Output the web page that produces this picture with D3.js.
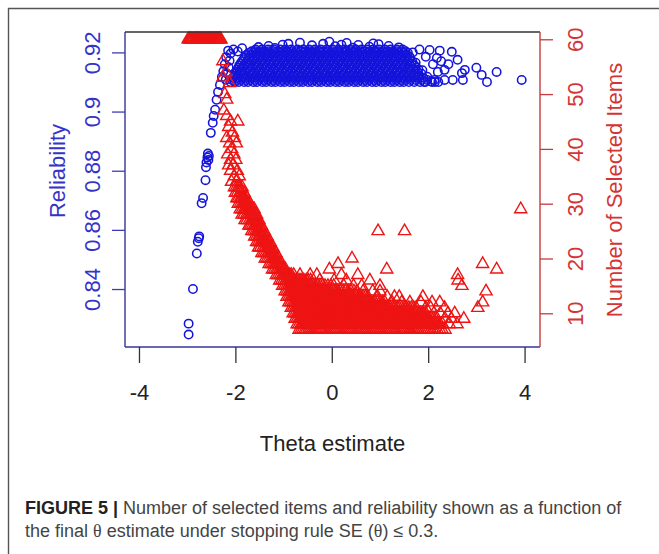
<!DOCTYPE html>
<html>
<head>
<meta charset="utf-8">
<script src="https://cdn.jsdelivr.net/npm/d3@7"></script>
<style>
  body { margin: 0; background: #fff; }
  svg { display: block; font-family: "Liberation Sans", Arial, sans-serif; }
</style>
</head>
<body>
<div id="chart"></div>
<script>
// ---- data ----

// x axis
const xTicks = [-4, -2, 0, 2, 4];
const xTickLabels = ["-4", "-2", "0", "2", "4"];

// left axis: reliability
const relTicks = [0.84, 0.86, 0.88, 0.90, 0.92];
const relTickLabels = ["0.84", "0.86", "0.88", "0.9", "0.92"];

// right axis: number of selected items
const itemTicks = [10, 20, 30, 40, 50, 60];
const itemTickLabels = ["10", "20", "30", "40", "50", "60"];

// reliability: the dense band, one list of theta values per reliability level
const blueRowRel = [0.9100, 0.9107, 0.9114, 0.9121, 0.9128, 0.9135, 0.9142, 0.9149, 0.9156, 0.9163, 0.9170, 0.9177, 0.9184, 0.9191, 0.9198, 0.9204, 0.9210];
const blueRowTheta = [
  [-2.10,-2.01,-1.93,-1.82,-1.74,-1.63,-1.55,-1.44,-1.36,-1.25,-1.17,-1.06,-0.98,-0.87,-0.79,-0.68,-0.60,-0.49,-0.41,-0.30,-0.22,-0.11,-0.03,0.08,0.16,0.27,0.35,0.46,0.54,0.65,0.73,0.84,0.92,1.03,1.11,1.22,1.30,1.41,1.49,1.60,1.71,1.83,1.94,2.08,2.21],
  [-2.07,-1.98,-1.89,-1.79,-1.70,-1.60,-1.51,-1.41,-1.32,-1.22,-1.13,-1.03,-0.94,-0.84,-0.75,-0.65,-0.56,-0.46,-0.37,-0.27,-0.18,-0.08,0.01,0.11,0.20,0.30,0.39,0.49,0.58,0.68,0.77,0.87,0.96,1.06,1.15,1.25,1.34,1.44,1.53,1.63,1.74,1.86,1.98,2.13],
  [-2.05,-1.97,-1.86,-1.79,-1.68,-1.59,-1.50,-1.40,-1.31,-1.21,-1.12,-1.02,-0.93,-0.83,-0.74,-0.64,-0.55,-0.45,-0.36,-0.26,-0.17,-0.07,0.02,0.12,0.21,0.31,0.40,0.50,0.59,0.69,0.78,0.88,0.97,1.07,1.16,1.26,1.35,1.45,1.55,1.66,1.78,1.90],
  [-2.02,-1.94,-1.84,-1.76,-1.66,-1.57,-1.47,-1.38,-1.28,-1.19,-1.09,-1.00,-0.90,-0.81,-0.71,-0.62,-0.52,-0.43,-0.33,-0.24,-0.14,-0.05,0.05,0.14,0.24,0.33,0.43,0.52,0.62,0.71,0.81,0.90,1.00,1.09,1.19,1.28,1.38,1.48,1.58,1.70,1.82],
  [-2.00,-1.90,-1.83,-1.72,-1.64,-1.54,-1.45,-1.35,-1.27,-1.16,-1.08,-0.97,-0.89,-0.78,-0.70,-0.59,-0.51,-0.40,-0.32,-0.21,-0.13,-0.02,0.06,0.17,0.25,0.36,0.44,0.55,0.63,0.74,0.82,0.93,1.01,1.12,1.20,1.31,1.39,1.50,1.61,1.73,1.86],
  [-1.97,-1.88,-1.80,-1.70,-1.61,-1.51,-1.42,-1.32,-1.23,-1.13,-1.04,-0.94,-0.85,-0.75,-0.66,-0.56,-0.47,-0.37,-0.28,-0.18,-0.09,0.01,0.10,0.20,0.29,0.39,0.48,0.58,0.67,0.77,0.86,0.96,1.05,1.15,1.24,1.34,1.43,1.54,1.65,1.77],
  [-1.96,-1.87,-1.77,-1.69,-1.58,-1.49,-1.39,-1.30,-1.20,-1.11,-1.01,-0.92,-0.82,-0.73,-0.63,-0.54,-0.44,-0.35,-0.25,-0.16,-0.06,0.03,0.13,0.22,0.32,0.41,0.51,0.60,0.70,0.79,0.89,0.98,1.08,1.17,1.27,1.36,1.46,1.57,1.69,1.80],
  [-1.93,-1.84,-1.74,-1.65,-1.55,-1.46,-1.36,-1.27,-1.17,-1.08,-0.98,-0.89,-0.79,-0.70,-0.60,-0.51,-0.41,-0.32,-0.22,-0.13,-0.03,0.06,0.16,0.25,0.35,0.44,0.54,0.63,0.73,0.82,0.92,1.01,1.11,1.20,1.30,1.40,1.50,1.61,1.74],
  [-1.92,-1.81,-1.73,-1.62,-1.53,-1.43,-1.34,-1.24,-1.14,-1.05,-0.95,-0.86,-0.76,-0.67,-0.57,-0.48,-0.38,-0.29,-0.19,-0.10,0.00,0.09,0.19,0.28,0.38,0.47,0.57,0.66,0.76,0.85,0.95,1.04,1.14,1.23,1.33,1.42,1.52,1.63,1.72],
  [-1.89,-1.78,-1.70,-1.59,-1.50,-1.40,-1.31,-1.21,-1.11,-1.02,-0.92,-0.83,-0.73,-0.64,-0.54,-0.45,-0.35,-0.26,-0.16,-0.07,0.03,0.12,0.22,0.31,0.41,0.50,0.60,0.69,0.79,0.88,0.98,1.07,1.17,1.26,1.36,1.45,1.55,1.66],
  [-1.86,-1.76,-1.67,-1.57,-1.47,-1.38,-1.28,-1.19,-1.09,-1.00,-0.90,-0.81,-0.71,-0.62,-0.52,-0.43,-0.33,-0.24,-0.14,-0.05,0.05,0.14,0.24,0.33,0.43,0.52,0.62,0.71,0.81,0.90,1.00,1.09,1.19,1.28,1.38,1.48,1.58,1.67],
  [-1.83,-1.73,-1.64,-1.54,-1.44,-1.35,-1.25,-1.16,-1.06,-0.97,-0.87,-0.78,-0.68,-0.59,-0.49,-0.40,-0.30,-0.21,-0.11,-0.02,0.08,0.17,0.27,0.36,0.46,0.55,0.65,0.74,0.84,0.93,1.03,1.12,1.22,1.31,1.41,1.51,1.61],
  [-1.80,-1.71,-1.61,-1.52,-1.42,-1.33,-1.23,-1.13,-1.04,-0.94,-0.85,-0.75,-0.66,-0.56,-0.47,-0.37,-0.28,-0.18,-0.09,0.01,0.10,0.20,0.29,0.39,0.48,0.58,0.67,0.77,0.86,0.96,1.05,1.15,1.24,1.34,1.43,1.53,1.62],
  [-1.77,-1.68,-1.58,-1.49,-1.39,-1.30,-1.20,-1.10,-1.01,-0.91,-0.82,-0.72,-0.63,-0.53,-0.44,-0.34,-0.25,-0.15,-0.06,0.04,0.13,0.23,0.32,0.42,0.51,0.61,0.70,0.80,0.89,0.99,1.08,1.18,1.27,1.37,1.46,1.56],
  [-1.72,-1.63,-1.55,-1.46,-1.36,-1.27,-1.17,-1.08,-0.98,-0.89,-0.79,-0.70,-0.60,-0.51,-0.41,-0.32,-0.22,-0.13,-0.03,0.06,0.16,0.25,0.35,0.44,0.54,0.63,0.73,0.82,0.92,1.01,1.11,1.20,1.30,1.39,1.49,1.58],
  [-1.66,-1.58,-1.49,-1.40,-1.31,-1.21,-1.12,-1.02,-0.93,-0.83,-0.74,-0.64,-0.55,-0.45,-0.36,-0.26,-0.17,-0.07,0.02,0.12,0.21,0.31,0.40,0.50,0.59,0.69,0.78,0.88,0.97,1.07,1.16,1.26,1.35,1.45,1.53],
  [-1.58,-1.45,-1.32,-1.20,-1.07,-0.96,-0.84,-0.71,-0.59,-0.47,-0.35,-0.23,-0.11,0.02,0.14,0.26,0.38,0.50,0.62,0.74,0.86,0.98,1.10,1.22,1.35,1.47]
];
// reliability: single points outside the band [theta, reliability]
const blueExtra = [
  [-2.97,0.8246],[-2.97,0.8283],[-2.88,0.8400],[-2.80,0.8520],[-2.78,0.8560],[-2.76,0.8572],[-2.75,0.8578],
  [-2.70,0.8690],[-2.67,0.8708],[-2.62,0.8768],[-2.61,0.8812],[-2.60,0.8828],[-2.58,0.8845],[-2.57,0.8858],
  [-2.56,0.8836],[-2.55,0.8850],[-2.51,0.8928],[-2.47,0.8962],[-2.45,0.8985],[-2.42,0.9006],[-2.39,0.9040],
  [-2.36,0.9066],[-2.32,0.9090],[-2.28,0.9117],[-2.25,0.9136],[-2.22,0.9160],[-2.19,0.9184],[-2.15,0.9206],
  [-2.10,0.9196],[-2.04,0.9210],[-1.95,0.9203],[-1.86,0.9214],[-2.14,0.9150],[-2.12,0.9172],[-2.17,0.9128],[-2.20,0.9108],
  [-1.52,0.9218],[-1.31,0.9222],[-1.02,0.9226],[-0.90,0.9229],[-0.66,0.9233],[-0.41,0.9224],[-0.18,0.9229],
  [0.07,0.9221],[0.31,0.9232],[0.55,0.9225],[0.78,0.9219],[0.97,0.9228],[1.18,0.9222],[1.39,0.9217],
  [-0.05,0.9236],[0.44,0.9216],[-1.18,0.9215],[0.20,0.9226],[0.86,0.9230],
  [1.68,0.9200],[1.74,0.9165],[1.82,0.9210],[1.88,0.9140],[1.95,0.9185],[2.03,0.9208],[2.10,0.9160],
  [2.18,0.9181],[2.24,0.9206],[2.20,0.9134],[2.34,0.9141],[2.34,0.9107],[2.49,0.9202],[2.51,0.9107],
  [2.61,0.9175],[2.70,0.9130],[2.76,0.9141],[2.72,0.9107],[3.00,0.9148],[3.11,0.9124],[3.22,0.9100],
  [3.42,0.9134],[3.94,0.9107],[1.98,0.9118],[2.06,0.9102],[2.27,0.9170],[1.79,0.9122],[1.92,0.9100],
  [2.14,0.9100],[2.42,0.9160]
];

// number of selected items: theta values for each item count
const redRowItems = [
  7,8,9,10,11,12,13,14,15,16,17,18,19,20,21,22,23,24,25,26,27,28,29,30,31,32,33,34,35,36,37,38,39,40,41,42,43,44,45,46,47,49,50,52,53,54,56,60,
  7,8,9,10,11,12,13,14,15,16,17,18,19,20,21,22,23,24,25,26,27,28,29,30,31,32,33,60
];
const redRowTheta = [
  [-0.68,-0.60,-0.53,-0.45,-0.37,-0.29,-0.22,-0.14,-0.06,0.02,0.09,0.17,0.25,0.33,0.40,0.48,0.56,0.64,0.71,0.79,0.87,0.95,1.02,1.10,1.18,1.26,1.33,1.41,1.49,1.57,1.64,1.72,1.80,1.88,1.96,2.05,2.14,2.24,2.35],
  [-0.72,-0.64,-0.56,-0.49,-0.41,-0.33,-0.26,-0.18,-0.10,-0.02,0.05,0.13,0.21,0.29,0.36,0.44,0.52,0.60,0.67,0.75,0.83,0.91,0.98,1.06,1.14,1.22,1.29,1.37,1.45,1.53,1.60,1.68,1.76,1.84,1.92,2.01,2.10,2.20,2.30,2.44,2.60],
  [-0.76,-0.68,-0.61,-0.53,-0.45,-0.37,-0.30,-0.22,-0.14,-0.06,0.01,0.09,0.17,0.25,0.32,0.40,0.48,0.56,0.63,0.71,0.79,0.87,0.94,1.02,1.10,1.18,1.25,1.33,1.41,1.49,1.56,1.64,1.72,1.80,1.89,1.98,2.07,2.15,2.35,2.48,2.74],
  [-0.80,-0.72,-0.64,-0.57,-0.49,-0.41,-0.34,-0.26,-0.18,-0.10,-0.03,0.05,0.13,0.21,0.28,0.36,0.44,0.52,0.59,0.67,0.75,0.83,0.90,0.98,1.06,1.14,1.21,1.29,1.37,1.45,1.53,1.62,1.71,1.80,1.88,1.95,2.12,2.25,2.41,2.55],
  [-0.84,-0.76,-0.68,-0.61,-0.53,-0.45,-0.38,-0.30,-0.22,-0.14,-0.07,0.01,0.09,0.17,0.24,0.32,0.40,0.48,0.55,0.63,0.71,0.79,0.86,0.94,1.02,1.10,1.18,1.27,1.36,1.45,1.55,1.65,1.75,1.95,2.05,2.34,3.03],
  [-0.89,-0.81,-0.73,-0.65,-0.58,-0.50,-0.42,-0.35,-0.27,-0.19,-0.11,-0.04,0.04,0.12,0.20,0.27,0.35,0.43,0.51,0.58,0.66,0.74,0.82,0.90,1.00,1.10,1.25,1.45,1.62,1.85,2.08,2.24,3.13],
  [-0.93,-0.85,-0.77,-0.70,-0.62,-0.54,-0.47,-0.39,-0.31,-0.23,-0.16,-0.08,0.00,0.08,0.15,0.23,0.31,0.39,0.47,0.56,0.65,0.75,0.95,1.15,1.30,1.40,1.89],
  [-0.97,-0.89,-0.82,-0.74,-0.66,-0.58,-0.51,-0.43,-0.35,-0.27,-0.18,-0.10,-0.01,0.08,0.18,0.28,0.40,0.52,0.65,0.85,1.00,3.20],
  [-1.02,-0.94,-0.86,-0.79,-0.71,-0.63,-0.55,-0.47,-0.38,-0.29,-0.19,-0.08,0.04,0.25,0.45,0.62,1.00,2.70],
  [-1.08,-1.00,-0.92,-0.84,-0.77,-0.70,-0.62,-0.53,-0.44,-0.25,0.05,0.30,0.79,2.62],
  [-1.15,-1.07,-0.99,-0.91,-0.84,-0.66,-0.45,-0.31,0.20,0.54,2.61],
  [-1.23,-1.15,-1.08,-1.00,-0.05,1.14,3.42],
  [-1.30,-1.22,-1.15,-1.08,0.13,3.13],
  [-1.38,-1.30,-1.22,-1.14,0.42],
  [-1.45,-1.37,-1.28,-1.20],
  [-1.52,-1.43,-1.34,-1.26],
  [-1.56,-1.48,-1.40,-1.32],
  [-1.60,-1.52,-1.45,-1.38],
  [-1.66,-1.58,-1.51,-1.44,0.96,1.51],
  [-1.72,-1.65,-1.57,-1.50],
  [-1.80,-1.71,-1.63,-1.55],
  [-1.86,-1.77,-1.68,-1.60],
  [-1.90,-1.82,-1.73,-1.65,3.92],
  [-1.94,-1.86,-1.78,-1.70],
  [-1.97,-1.90,-1.83,-1.76],
  [-2.00,-1.91,-1.82],
  [-2.02,-1.94,-1.86],
  [-2.08,-1.98],
  [-2.02,-1.92],
  [-1.96,-2.10],
  [-2.14,-2.05],
  [-2.10,-1.99],
  [-2.16,-2.03],
  [-2.08],
  [-2.12,-1.98],
  [-2.18,-2.02],
  [-2.06],
  [-2.14],
  [-2.10,-1.95],
  [-2.18],
  [-2.24],
  [-2.18],
  [-2.22],
  [-2.12],
  [-2.26],
  [-2.20],
  [-2.26],
  [-2.98,-2.94,-2.90,-2.85,-2.81,-2.77,-2.73,-2.69,-2.65,-2.61,-2.57,-2.53,-2.49,-2.45,-2.41,-2.37,-2.33,-2.30],
  // second pass over the crowded rows
  [-0.64,-0.56,-0.49,-0.41,-0.33,-0.25,-0.18,-0.10,-0.02,0.06,0.13,0.21,0.29,0.37,0.44,0.52,0.60,0.68,0.75,0.83,0.91,0.99,1.06,1.14,1.22,1.30,1.37,1.45,1.53,1.61,1.68,1.76,1.84,1.92,2.00,2.10,2.19,2.29],
  [-0.68,-0.60,-0.52,-0.45,-0.37,-0.29,-0.22,-0.14,-0.06,0.02,0.09,0.17,0.25,0.33,0.40,0.48,0.56,0.64,0.71,0.79,0.87,0.95,1.02,1.10,1.18,1.26,1.33,1.41,1.49,1.57,1.64,1.72,1.80,1.88,1.96,2.06,2.15,2.25],
  [-0.72,-0.64,-0.57,-0.49,-0.41,-0.33,-0.26,-0.18,-0.10,-0.02,0.05,0.13,0.21,0.29,0.36,0.44,0.52,0.60,0.67,0.75,0.83,0.91,0.98,1.06,1.14,1.22,1.29,1.37,1.45,1.53,1.60,1.68,1.76,1.84,1.93,2.02,2.11],
  [-0.76,-0.68,-0.60,-0.53,-0.45,-0.37,-0.30,-0.22,-0.14,-0.06,0.01,0.09,0.17,0.25,0.32,0.40,0.48,0.56,0.63,0.71,0.79,0.87,0.94,1.02,1.10,1.18,1.25,1.33,1.41,1.49,1.57,1.66,1.75,1.84,1.91],
  [-0.80,-0.72,-0.64,-0.57,-0.49,-0.41,-0.34,-0.26,-0.18,-0.10,-0.03,0.05,0.13,0.21,0.28,0.36,0.44,0.52,0.59,0.67,0.75,0.83,0.90,0.98,1.06,1.14,1.22,1.31,1.40,1.50,1.60,1.70],
  [-0.85,-0.77,-0.69,-0.61,-0.54,-0.46,-0.38,-0.31,-0.23,-0.15,-0.07,0.00,0.08,0.16,0.24,0.31,0.39,0.47,0.55,0.62,0.70,0.78,0.86,0.95,1.05],
  [-0.89,-0.81,-0.73,-0.66,-0.58,-0.50,-0.43,-0.35,-0.27,-0.19,-0.12,-0.04,0.04,0.12,0.19,0.27,0.35,0.43,0.51,0.60,0.70],
  [-0.93,-0.85,-0.78,-0.70,-0.62,-0.54,-0.47,-0.39,-0.31,-0.23,-0.14,-0.06,0.03,0.13,0.23,0.34,0.46],
  [-0.98,-0.90,-0.82,-0.75,-0.67,-0.59,-0.51,-0.43,-0.34,-0.24,-0.14,-0.02],
  [-1.04,-0.96,-0.88,-0.80,-0.73,-0.66,-0.58,-0.49],
  [-1.11,-1.03,-0.95,-0.87,-0.79],
  [-1.19,-1.12,-1.04,-0.96],
  [-1.26,-1.19,-1.12,-1.04],
  [-1.34,-1.26,-1.18,-1.10],
  [-1.41,-1.33,-1.24,-1.16],
  [-1.48,-1.39,-1.30,-1.22],
  [-1.52,-1.44,-1.36,-1.28],
  [-1.56,-1.49,-1.42,-1.34],
  [-1.62,-1.55,-1.48,-1.40],
  [-1.69,-1.61,-1.54,-1.46],
  [-1.76,-1.67,-1.59,-1.51],
  [-1.82,-1.73,-1.64,-1.56],
  [-1.86,-1.78,-1.69,-1.61],
  [-1.90,-1.82,-1.74],
  [-1.94,-1.87,-1.80],
  [-1.96,-1.87],
  [-1.98,-1.90],
  [-2.96,-2.92,-2.88,-2.83,-2.79,-2.75,-2.71,-2.67,-2.63,-2.59,-2.55,-2.51,-2.47,-2.43,-2.39,-2.35,-2.31]
];

// ---- drawing ----
const W = 659, H = 554;
const blue = "#1414dc", red = "#ee1414";
const blueText = "#3434c8", redText = "#d43434";

const svg = d3.select("#chart").append("svg")
  .attr("width", W)
  .attr("height", H);

// figure frame (top and left edges are all that show)
svg.append("path")
  .attr("d", "M8.5," + H + "V8.5H" + W)
  .attr("fill", "none")
  .attr("stroke", "#555")
  .attr("stroke-width", 1.4);

const plot = { left: 125, right: 540, top: 32, bottom: 347 };

const x = d3.scaleLinear().domain([-4.29, 4.32]).range([plot.left, plot.right]);
const yRel = d3.scaleLinear().domain([0.8204, 0.9269]).range([plot.bottom, plot.top]);
const yItem = d3.scaleLinear().domain([3.85, 61.33]).range([plot.bottom, plot.top]);

const bluePts = blueRowRel.flatMap((r, i) => blueRowTheta[i].map(t => [t, r])).concat(blueExtra);
const redPts = redRowItems.flatMap((k, i) => redRowTheta[i].map(t => [t, k]));

// reliability circles
svg.append("g")
  .selectAll("circle")
  .data(bluePts)
  .join("circle")
    .attr("cx", d => x(d[0]))
    .attr("cy", d => yRel(d[1]))
    .attr("r", 4.2)
    .attr("fill", "none")
    .attr("stroke", blue)
    .attr("stroke-width", 1.55);

// selected items triangles
const tri = d3.symbol().type(d3.symbolTriangle).size(64);
svg.append("g")
  .selectAll("path")
  .data(redPts)
  .join("path")
    .attr("d", tri)
    .attr("transform", d => `translate(${x(d[0])},${yItem(d[1])})`)
    .attr("fill", "none")
    .attr("stroke", red)
    .attr("stroke-width", 1.4);

// box
const box = svg.append("g").attr("stroke-width", 1.4);
box.append("line").attr("x1", plot.left).attr("x2", plot.right).attr("y1", plot.top).attr("y2", plot.top).attr("stroke", "#333");
box.append("line").attr("x1", plot.left).attr("x2", plot.right).attr("y1", plot.bottom).attr("y2", plot.bottom).attr("stroke", "#34349c");
box.append("line").attr("x1", plot.left).attr("x2", plot.left).attr("y1", plot.top).attr("y2", plot.bottom).attr("stroke", "#34349c");
box.append("line").attr("x1", plot.right).attr("x2", plot.right).attr("y1", plot.top).attr("y2", plot.bottom).attr("stroke", "#c43c3c");

// x axis
const gx = svg.append("g")
  .attr("transform", `translate(0,${plot.bottom})`)
  .call(d3.axisBottom(x).tickValues(xTicks).tickFormat((d, i) => xTickLabels[i]).tickSize(16));
gx.select(".domain").remove();
gx.selectAll("line").attr("stroke", "#333").attr("stroke-width", 1.3);
gx.selectAll("text")
  .attr("y", 53).attr("dy", null)
  .attr("fill", "#222")
  .style("font-size", "22px")
  .style("font-family", "Liberation Sans, Arial, sans-serif");

// left axis
const gl = svg.append("g")
  .attr("transform", `translate(${plot.left},0)`)
  .call(d3.axisLeft(yRel).tickValues(relTicks).tickFormat((d, i) => relTickLabels[i]).tickSize(13));
gl.select(".domain").remove();
gl.selectAll("line").attr("stroke", "#3c3cb4").attr("stroke-width", 1.3);
gl.selectAll("text")
  .attr("x", null).attr("dy", null)
  .attr("text-anchor", "middle")
  .attr("transform", "translate(-25,0) rotate(-90)")
  .attr("fill", blueText)
  .style("font-size", "22px")
  .style("font-family", "Liberation Sans, Arial, sans-serif");

// right axis
const gr = svg.append("g")
  .attr("transform", `translate(${plot.right},0)`)
  .call(d3.axisRight(yItem).tickValues(itemTicks).tickFormat((d, i) => itemTickLabels[i]).tickSize(13));
gr.select(".domain").remove();
gr.selectAll("line").attr("stroke", "#c43c3c").attr("stroke-width", 1.3);
gr.selectAll("text")
  .attr("x", null).attr("dy", null)
  .attr("text-anchor", "middle")
  .attr("transform", "translate(43,0) rotate(-90)")
  .attr("fill", redText)
  .style("font-size", "22px")
  .style("font-family", "Liberation Sans, Arial, sans-serif");

// axis titles
svg.append("text")
  .attr("x", (plot.left + plot.right) / 2)
  .attr("y", 451)
  .attr("text-anchor", "middle")
  .attr("fill", "#222")
  .style("font-size", "22px")
  .text("Theta estimate");

svg.append("text")
  .attr("transform", "translate(65,171) rotate(-90)")
  .attr("text-anchor", "middle")
  .attr("fill", blueText)
  .style("font-size", "22px")
  .text("Reliability");

svg.append("text")
  .attr("transform", "translate(622,190) rotate(-90)")
  .attr("text-anchor", "middle")
  .attr("fill", redText)
  .style("font-size", "22px")
  .text("Number of Selected Items");

// caption
const cap1 = svg.append("text")
  .attr("x", 25).attr("y", 514)
  .attr("fill", "#444")
  .style("font-size", "18px");
cap1.append("tspan").attr("font-weight", "bold").attr("fill", "#222").text("FIGURE 5 |");
cap1.append("tspan").text(" Number of selected items and reliability shown as a function of");

const cap2 = svg.append("text")
  .attr("x", 25).attr("y", 537)
  .attr("fill", "#444")
  .style("font-size", "18px");
cap2.append("tspan").text("the final ");
cap2.append("tspan").style("font-family", "Liberation Serif, serif").text("θ");
cap2.append("tspan").text(" estimate under stopping rule SE (");
cap2.append("tspan").style("font-family", "Liberation Serif, serif").text("θ");
cap2.append("tspan").text(") ≤ 0.3.");
</script>
</body>
</html>
